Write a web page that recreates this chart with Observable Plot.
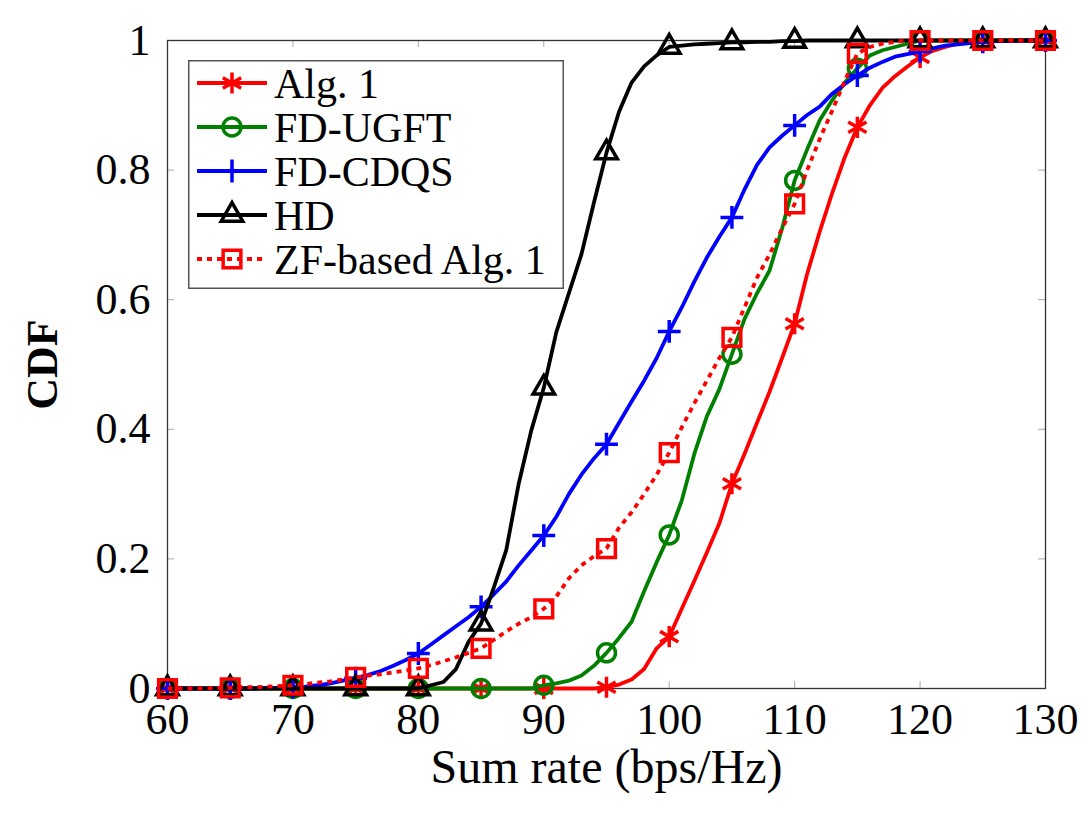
<!DOCTYPE html>
<html>
<head>
<meta charset="utf-8">
<script src="https://cdn.jsdelivr.net/npm/d3@7"></script>
<script src="https://cdn.jsdelivr.net/npm/@observablehq/plot@0.6"></script>
<style>
  body { margin: 0; background: #fff; }
  #chart { position: relative; width: 1086px; height: 836px; font-family: "Liberation Serif", "DejaVu Serif", serif; }
  #chart svg, #chart svg text { font-family: "Liberation Serif", "DejaVu Serif", serif !important; }
  #legend { position: absolute; left: 188px; top: 60px; }
</style>
</head>
<body>
<div id="chart"></div>
<script>
// Sum rate samples (bps/Hz)
const rates = [60, 61, 62, 63, 64, 65, 66, 67, 68, 69,
  70, 71, 72, 73, 74, 75, 76, 77, 78, 79,
  80, 81, 82, 83, 84, 85, 86, 87, 88, 89,
  90, 91, 92, 93, 94, 95, 96, 97, 98, 99,
  100, 101, 102, 103, 104, 105, 106, 107, 108, 109,
  110, 111, 112, 113, 114, 115, 116, 117, 118, 119,
  120, 121, 122, 123, 124, 125, 126, 127, 128, 129, 130];

// Empirical CDF of each scheme at the sample rates above
const alg1 = [0, 0, 0, 0, 0, 0, 0, 0, 0, 0,
  0, 0, 0, 0, 0, 0, 0, 0, 0, 0,
  0, 0, 0, 0, 0, 0, 0, 0, 0, 0,
  0, 0, 0, 0, 0, 0.002, 0.006, 0.014, 0.03, 0.062,
  0.08, 0.123, 0.166, 0.21, 0.255, 0.316, 0.362, 0.41, 0.458, 0.51,
  0.563, 0.64, 0.705, 0.765, 0.82, 0.866, 0.9, 0.927, 0.945, 0.96,
  0.974, 0.984, 0.99, 0.995, 0.998, 1, 1, 1, 1, 1, 1];

const fdUgft = [0, 0, 0, 0, 0, 0, 0, 0, 0, 0,
  0, 0, 0, 0, 0, 0, 0, 0, 0, 0,
  0, 0, 0, 0, 0, 0, 0, 0, 0, 0,
  0.005, 0.008, 0.012, 0.02, 0.035, 0.055, 0.078, 0.103, 0.15, 0.195,
  0.237, 0.29, 0.362, 0.42, 0.462, 0.516, 0.57, 0.61, 0.645, 0.71,
  0.784, 0.832, 0.877, 0.908, 0.935, 0.957, 0.977, 0.985, 0.99, 0.995,
  1, 1, 1, 1, 1, 1, 1, 1, 1, 1, 1];

const fdCdqs = [0, 0, 0, 0, 0, 0, 0, 0, 0.001, 0.001,
  0.002, 0.003, 0.005, 0.008, 0.012, 0.016, 0.021, 0.027, 0.035, 0.044,
  0.054, 0.068, 0.082, 0.096, 0.11, 0.126, 0.145, 0.165, 0.19, 0.213,
  0.236, 0.265, 0.3, 0.33, 0.355, 0.377, 0.41, 0.443, 0.475, 0.51,
  0.551, 0.588, 0.628, 0.665, 0.697, 0.727, 0.77, 0.808, 0.835, 0.853,
  0.869, 0.885, 0.898, 0.918, 0.933, 0.946, 0.958, 0.967, 0.975, 0.979,
  0.983, 0.988, 0.992, 0.994, 0.996, 0.998, 0.999, 0.999, 1, 1, 1];

const hd = [0, 0, 0, 0, 0, 0, 0, 0, 0, 0,
  0, 0, 0, 0, 0, 0, 0, 0, 0, 0,
  0, 0.005, 0.01, 0.03, 0.072, 0.1, 0.155, 0.213, 0.316, 0.398,
  0.464, 0.55, 0.61, 0.67, 0.75, 0.827, 0.89, 0.935, 0.96, 0.977,
  0.99, 0.992, 0.994, 0.995, 0.996, 0.997, 0.997, 0.998, 0.998, 0.999,
  0.999, 1, 1, 1, 1, 1, 1, 1, 1, 1,
  1, 1, 1, 1, 1, 1, 1, 1, 1, 1, 1];

const zfAlg1 = [0, 0, 0, 0, 0.001, 0.001, 0.002, 0.002, 0.003, 0.004,
  0.005, 0.007, 0.009, 0.011, 0.014, 0.017, 0.02, 0.022, 0.025, 0.028,
  0.031, 0.036, 0.042, 0.048, 0.055, 0.062, 0.075, 0.088, 0.1, 0.11,
  0.123, 0.142, 0.17, 0.19, 0.204, 0.216, 0.248, 0.272, 0.3, 0.33,
  0.364, 0.403, 0.44, 0.475, 0.51, 0.542, 0.588, 0.634, 0.67, 0.71,
  0.748, 0.8, 0.848, 0.892, 0.938, 0.98, 0.99, 0.995, 0.998, 1,
  1, 1, 1, 1, 1, 1, 1, 1, 1, 1, 1];

const seriesNames = ["Alg. 1", "FD-UGFT", "FD-CDQS", "HD", "ZF-based Alg. 1"];
const seriesValues = [alg1, fdUgft, fdCdqs, hd, zfAlg1];
const seriesColors = ["#ff0000", "#008000", "#0000ff", "#000000", "#ff0000"];
const seriesSymbols = ["asterisk", "circle", "plus", "triangle", "square"];
const seriesDash = [null, null, null, null, "5,5"];

const xTicks = [60, 70, 80, 90, 100, 110, 120, 130];
const yTicks = [0, 0.2, 0.4, 0.6, 0.8, 1];
const yTickLabels = ["0", "0.2", "0.4", "0.6", "0.8", "1"];
const markerEvery = 5;

// marker radii (Plot's r) per symbol
const markerR = { asterisk: 10, circle: 9, plus: 7.4, triangle: 8, square: 10 };

const FONT = "'Liberation Serif', 'DejaVu Serif', serif";
const W = 1086, H = 836;
const M = { top: 40, right: 41, bottom: 148, left: 167 };
const innerW = W - M.left - M.right;
const innerH = H - M.top - M.bottom;

const tables = seriesNames.map((name, i) =>
  rates.map((rate, j) => ({ name, rate, cdf: seriesValues[i][j] })));

const seriesMarks = tables.flatMap((data, i) => [
  Plot.line(data, {
    x: "rate", y: "cdf",
    stroke: seriesColors[i], strokeWidth: 3.8,
    strokeDasharray: seriesDash[i],
    strokeLinejoin: "round", strokeLinecap: "butt"
  }),
  Plot.dot(data.filter(d => d.rate % markerEvery === 0), {
    x: "rate", y: "cdf",
    symbol: seriesSymbols[i], r: markerR[seriesSymbols[i]],
    fill: "none", stroke: seriesColors[i], strokeWidth: 3.5
  })
]);

const tickStyle = { stroke: "#aaa", strokeWidth: 1 };

const chart = Plot.plot({
  width: W, height: H,
  marginTop: M.top, marginRight: M.right, marginBottom: M.bottom, marginLeft: M.left,
  style: { background: "#fff", color: "#000", fontFamily: FONT },
  x: { domain: [60, 130] },
  y: { domain: [0, 1] },
  marks: [
    // inward ticks on all four sides
    Plot.tickX(xTicks, { x: d => d, insetTop: innerH - 7, ...tickStyle }),
    Plot.tickX(xTicks, { x: d => d, insetBottom: innerH - 7, ...tickStyle }),
    Plot.tickY(yTicks, { y: d => d, insetRight: innerW - 7, ...tickStyle }),
    Plot.tickY(yTicks, { y: d => d, insetLeft: innerW - 7, ...tickStyle }),
    Plot.frame({ stroke: "#333", strokeWidth: 1.3 }),
    Plot.axisX({
      ticks: xTicks, tickSize: 0, tickPadding: 14, fontSize: 44,
      label: "Sum rate (bps/Hz)", labelAnchor: "center", labelArrow: "none", labelOffset: 94
    }),
    Plot.axisY({
      ticks: yTicks, tickSize: 0, tickPadding: 17, fontSize: 44,
      tickFormat: d => yTickLabels[yTicks.indexOf(d)],
      label: "CDF", labelAnchor: "center", labelArrow: "none", labelOffset: 142
    }),
    ...seriesMarks
  ]
});

const svg = d3.select(chart);
svg.selectAll("text").attr("font-family", FONT);
svg.selectAll('[aria-label="x-axis label"] text').attr("font-size", 48);
svg.selectAll('[aria-label="y-axis label"] text').attr("font-size", 44).attr("font-weight", "bold");

const container = document.getElementById("chart");
container.appendChild(chart);

// legend box in the upper-left corner of the plot area
const symbolTypes = {
  asterisk: d3.symbolAsterisk, circle: d3.symbolCircle, plus: d3.symbolPlus,
  triangle: d3.symbolTriangle, square: d3.symbolSquare
};
const legend = d3.select(container).append("svg")
  .attr("id", "legend").attr("width", 376).attr("height", 229);
legend.append("rect")
  .attr("x", 0.75).attr("y", 0.75).attr("width", 374.5).attr("height", 227.5)
  .attr("fill", "#fff").attr("stroke", "#555").attr("stroke-width", 1.5);
seriesNames.forEach((name, i) => {
  const g = legend.append("g").attr("transform", `translate(0,${23 + i * 44})`);
  g.append("line")
    .attr("x1", 9).attr("x2", 79).attr("y1", 0).attr("y2", 0)
    .attr("stroke", seriesColors[i]).attr("stroke-width", 3.8)
    .attr("stroke-dasharray", seriesDash[i]);
  const r = markerR[seriesSymbols[i]];
  g.append("path")
    .attr("transform", "translate(44,0)")
    .attr("d", d3.symbol(symbolTypes[seriesSymbols[i]], Math.PI * r * r)())
    .attr("fill", "none").attr("stroke", seriesColors[i]).attr("stroke-width", 3.5);
  g.append("text")
    .attr("x", 86).attr("dy", "0.35em")
    .attr("font-size", 42)
    .attr("font-family", FONT)
    .text(name);
});
</script>
</body>
</html>
